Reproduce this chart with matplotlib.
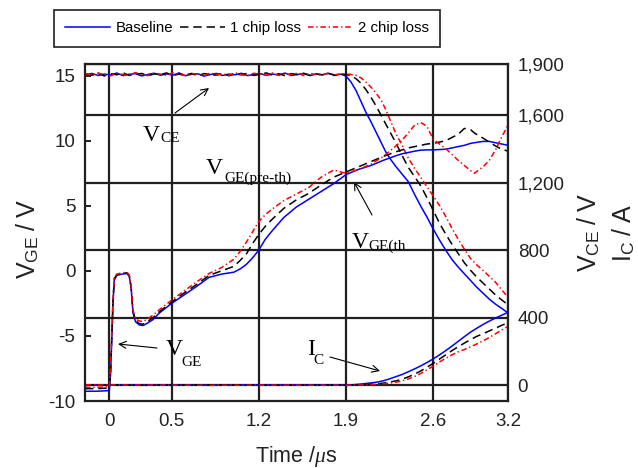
import matplotlib
matplotlib.use("Agg")
import matplotlib.pyplot as plt

plt.rcParams["font.family"] = ["Liberation Sans", "DejaVu Sans"]
plt.rcParams["mathtext.fontset"] = "custom"
plt.rcParams["mathtext.sf"] = "Liberation Sans"
plt.rcParams["mathtext.rm"] = "Liberation Sans"
plt.rcParams["mathtext.it"] = "Liberation Serif:italic"

# ---------------- data ----------------
series_names = ["Baseline", "1 chip loss", "2 chip loss"]

# gate-emitter voltage V_GE (V)
t_vge = [-0.195, -0.10, 0.00, 0.01, 0.02, 0.03, 0.04, 0.06, 0.10, 0.14, 0.16, 0.175,
         0.19, 0.21, 0.24, 0.27, 0.30, 0.35, 0.40, 0.50, 0.60, 0.70, 0.80, 0.90,
         1.00, 1.05, 1.10, 1.15, 1.20, 1.25, 1.30, 1.40, 1.50, 1.60, 1.70, 1.80,
         1.90, 2.00, 2.10, 2.20, 2.30, 2.35, 2.40, 2.45, 2.50, 2.55, 2.60, 2.70,
         2.80, 2.85, 2.90, 2.93, 3.00, 3.05, 3.10, 3.15, 3.20]
vge_base = [-9.25, -9.25, -9.2, -8.0, -5.3, -2.5, -0.7, -0.35, -0.25, -0.2, -0.4, -1.3,
            -3.2, -3.9, -4.15, -4.2, -4.05, -3.75, -3.25, -2.5, -1.85, -1.2, -0.5, -0.25,
            -0.1, 0.15, 0.5, 1.0, 1.6, 2.4, 3.0, 4.1, 4.9, 5.5, 6.1, 6.7,
            7.4, 7.8, 8.1, 8.5, 8.85, 9.0, 9.1, 9.2, 9.28, 9.3, 9.3, 9.35,
            9.55, 9.65, 9.8, 9.85, 9.95, 9.95, 9.85, 9.75, 9.65]
vge_1chip = [-9.05, -9.05, -9.0, -7.8, -5.0, -2.3, -0.6, -0.3, -0.2, -0.15, -0.35, -1.2,
             -3.1, -3.8, -4.05, -4.1, -3.95, -3.6, -3.15, -2.4, -1.7, -1.05, -0.35, 0.0,
             0.35, 0.8, 1.3, 2.1, 2.8, 3.4, 3.9, 4.8, 5.45, 5.95, 6.6, 7.2,
             7.6, 8.0, 8.4, 8.8, 9.15, 9.3, 9.45, 9.55, 9.65, 9.75, 9.8, 10.0,
             10.5, 10.95, 10.85, 10.6, 10.2, 9.9, 9.6, 9.35, 9.2]
vge_2chip = [-8.95, -8.95, -8.9, -7.5, -4.6, -2.0, -0.5, -0.25, -0.15, -0.1, -0.3, -1.1,
             -3.0, -3.7, -3.85, -3.9, -3.75, -3.4, -3.0, -2.25, -1.55, -0.85, -0.2, 0.25,
             0.9, 1.5, 2.2, 3.0, 3.8, 4.3, 4.7, 5.4, 5.9, 6.4, 7.2, 7.75,
             7.5, 7.8, 8.2, 8.8, 9.6, 10.05, 10.6, 11.2, 11.4, 11.1, 10.1, 9.4,
             8.5, 8.1, 7.7, 7.5, 8.0, 8.5, 9.3, 10.3, 11.2]

# collector-emitter voltage V_CE (V): blocking level, then the fall
t_vce_flat = [-0.19, -0.14, -0.09, -0.04, 0.01, 0.06, 0.11, 0.16, 0.21, 0.26, 0.31,
              0.36, 0.41, 0.46, 0.51, 0.56, 0.61, 0.66, 0.71, 0.76, 0.81, 0.86,
              0.91, 0.96, 1.01, 1.06, 1.11, 1.16, 1.21, 1.26, 1.31, 1.36, 1.41,
              1.46, 1.51, 1.56, 1.61, 1.66, 1.71, 1.76, 1.81, 1.86]
t_vce_fall = [1.90, 1.94, 1.98, 2.02, 2.06, 2.10, 2.14, 2.18, 2.22, 2.26, 2.30, 2.35,
              2.40, 2.45, 2.50, 2.55, 2.60, 2.65, 2.70, 2.75, 2.80, 2.85, 2.90, 2.95,
              3.00, 3.05, 3.10, 3.15, 3.20]
vce_base = [1838, 1846, 1834, 1842, 1837, 1848, 1833, 1841, 1845, 1831, 1840, 1847,
            1835, 1843, 1836, 1849, 1832, 1841, 1844, 1830, 1839, 1846, 1834, 1842,
            1838, 1847, 1833, 1840, 1845, 1835, 1842, 1837, 1848, 1834, 1840, 1845,
            1833, 1842, 1838, 1846, 1836, 1841,
            1830, 1795, 1745, 1680, 1615, 1560, 1500, 1440, 1380, 1335, 1295, 1250,
            1205, 1130, 1060, 995, 925, 860, 800, 745, 700, 660, 620, 580,
            545, 510, 480, 455, 428]
vce_1chip = [1842, 1835, 1847, 1831, 1844, 1838, 1850, 1834, 1840, 1846, 1832, 1843,
             1839, 1849, 1833, 1842, 1837, 1846, 1831, 1845, 1840, 1835, 1848, 1832,
             1843, 1838, 1847, 1834, 1841, 1849, 1836, 1844, 1833, 1845, 1839, 1847,
             1835, 1843, 1838, 1846, 1834, 1842,
             1840, 1832, 1815, 1788, 1750, 1705, 1655, 1600, 1545, 1490, 1435, 1360,
             1290, 1235, 1180, 1110, 1035, 960, 895, 835, 780, 725, 680, 640,
             605, 570, 535, 505, 476]
vce_2chip = [1845, 1833, 1849, 1837, 1832, 1847, 1840, 1836, 1851, 1838, 1833, 1848,
             1842, 1834, 1850, 1839, 1835, 1846, 1841, 1832, 1849, 1837, 1843, 1835,
             1850, 1838, 1833, 1847, 1841, 1836, 1849, 1834, 1844, 1839, 1848, 1833,
             1845, 1840, 1836, 1850, 1838, 1844,
             1842, 1840, 1835, 1820, 1795, 1765, 1730, 1690, 1630, 1560, 1490, 1420,
             1345, 1285, 1230, 1175, 1120, 1065, 1000, 930, 865, 805, 750, 712,
             680, 645, 610, 565, 520]

# collector current I_C (A)
t_ic = [-0.19, 0.3, 0.8, 1.3, 1.8, 1.95, 2.0, 2.05, 2.1, 2.15, 2.2, 2.25, 2.3, 2.35,
        2.4, 2.45, 2.5, 2.55, 2.6, 2.65, 2.7, 2.75, 2.8, 2.85, 2.9, 2.95, 3.0, 3.05,
        3.1, 3.15, 3.2]
ic_base = [0, 2, 0, 2, 1, 3, 6, 10, 14, 19, 27, 38, 51, 64,
           80, 97, 115, 135, 156, 180, 205, 232, 260, 288, 315, 338, 360, 380,
           398, 415, 432]
ic_1chip = [1, 0, 2, 0, 1, 1, 2, 4, 6, 9, 13, 19, 26, 36,
            50, 66, 85, 107, 130, 155, 180, 205, 228, 250, 270, 290, 305, 322,
            338, 355, 371]
ic_2chip = [2, 1, 0, 1, 0, 1, 1, 2, 4, 6, 9, 13, 18, 26,
            38, 52, 70, 92, 114, 138, 160, 180, 198, 212, 228, 245, 263, 283,
            305, 328, 348]

x_ticks = [0, 0.5, 1.2, 1.9, 2.6, 3.2]
x_ticklabels = ["0", "0.5", "1.2", "1.9", "2.6", "3.2"]
vge_ticks = [-10, -5, 0, 5, 10, 15]
vge_ticklabels = ["-10", "-5", "0", "5", "10", "15"]
right_ticks = [0, 400, 800, 1200, 1600, 1900]
right_ticklabels = ["0", "400", "800", "1,200", "1,600", "1,900"]

# ---------------- styles ----------------
colors = ["#0000ff", "#000000", "#ff0000"]
styles = ["-", (0, (5.5, 3.2)), (0, (3.6, 1.8, 0.9, 1.8))]
LW = 1.1
GRID = "#202020"

W, H = 638, 468
fig = plt.figure(figsize=(W / 100, H / 100), dpi=100)
L, R, T, B = 85, 508, 64.3, 401
ax = fig.add_axes([L / W, 1 - B / H, (R - L) / W, (B - T) / H])
ax2 = ax.twinx()

# right axis carries the grid and V_CE / I_C; left axis (on top) carries V_GE
ax.set_zorder(2)
ax2.set_zorder(1)
ax.patch.set_visible(False)

for vce, ic, c, ls in zip([vce_base, vce_1chip, vce_2chip],
                          [ic_base, ic_1chip, ic_2chip], colors, styles):
    ax2.plot(t_vce_flat + t_vce_fall, vce, color=c, ls=ls, lw=LW)
    ax2.plot(t_ic, ic, color=c, ls=ls, lw=LW)

handles = []
for vge, c, ls, name in zip([vge_base, vge_1chip, vge_2chip], colors, styles, series_names):
    h, = ax.plot(t_vge, vge, color=c, ls=ls, lw=LW, label=name)
    handles.append(h)

ax.set_xlim(-0.195, 3.2)
ax.set_ylim(-10, 15.877)
ax2.set_ylim(-93, 1900)

ax.set_xticks(x_ticks)
ax.set_xticklabels(x_ticklabels)
ax.set_yticks(vge_ticks)
ax.set_yticklabels(vge_ticklabels)
ax2.set_yticks(right_ticks)
ax2.set_yticklabels(right_ticklabels)

ax2.xaxis.set_visible(True)
ax2.tick_params(axis="x", length=0, labelbottom=False, labeltop=False)
ax2.grid(True, color=GRID, lw=1.6)
ax2.tick_params(axis="y", length=0, pad=7, labelsize=13.5, labelcolor="#222222")
for s in ax2.spines.values():
    s.set_visible(False)

ax.tick_params(axis="x", length=0, pad=9, labelsize=13.5, labelcolor="#222222")
ax.tick_params(axis="y", direction="in", length=4, width=1.4, color=GRID,
               pad=7, labelsize=13.5, labelcolor="#222222")
for s in ax.spines.values():
    s.set_linewidth(1.6)
    s.set_color(GRID)

# axis titles
fig.text(296.5 / W, 1 - 462 / H, r"Time /$\mu$s", fontsize=15.5, ha="center",
         va="baseline", color="#222222")
fig.text(27.5 / W, 1 - 239 / H, r"$\mathsf{V}_{\mathsf{GE}}\mathsf{\ /\ V}$",
         fontsize=18, rotation=90, ha="center", va="center", color="#222222")
fig.text(589 / W, 1 - 232.5 / H, r"$\mathsf{V}_{\mathsf{CE}}\mathsf{\ /\ V}$",
         fontsize=18, rotation=90, ha="center", va="center", color="#222222")
fig.text(624 / W, 1 - 232.5 / H, r"$\mathsf{I}_{\mathsf{C}}\mathsf{\ /\ A}$",
         fontsize=18, rotation=90, ha="center", va="center", color="#222222")


def fig_xy(px, py):
    return (px / W, 1 - py / H)


def serif_label(main, sub, main_xy, sub_xy):
    fig.text(*fig_xy(*main_xy), main, family="Liberation Serif", fontsize=17,
             ha="left", va="baseline")
    fig.text(*fig_xy(*sub_xy), sub, family="Liberation Serif", fontsize=11,
             ha="left", va="baseline")


def arrow(tail, head):
    fig.add_artist(matplotlib.patches.FancyArrowPatch(
        fig_xy(*tail), fig_xy(*head), transform=fig.transFigure,
        arrowstyle="->,head_length=5,head_width=2.5", lw=0.8, color="black",
        shrinkA=0, shrinkB=0))


serif_label("V", "CE", (143, 141), (160, 142.5))
arrow((175, 113), (209, 88))
serif_label("V", "GE(pre-th)", (206, 174), (224, 182))
serif_label("V", "GE(th", (351.7, 248.3), (368, 250))
arrow((372, 215), (354, 182))
serif_label("V", "GE", (166, 355), (181.7, 366))
arrow((157, 348), (118, 344))
serif_label("I", "C", (307, 355), (313.5, 364))
arrow((330, 357), (380, 371))

leg = fig.legend(handles, series_names, loc="upper left",
                 bbox_to_anchor=(54 / W, 1 - 10 / H), ncol=3, frameon=True,
                 fancybox=False, edgecolor=GRID, framealpha=1, fontsize=10.8,
                 handlelength=3.0, columnspacing=0.45, handletextpad=0.35,
                 borderpad=0.75, borderaxespad=0)
leg.get_frame().set_linewidth(1.2)

fig.savefig("out.png", dpi=100)
